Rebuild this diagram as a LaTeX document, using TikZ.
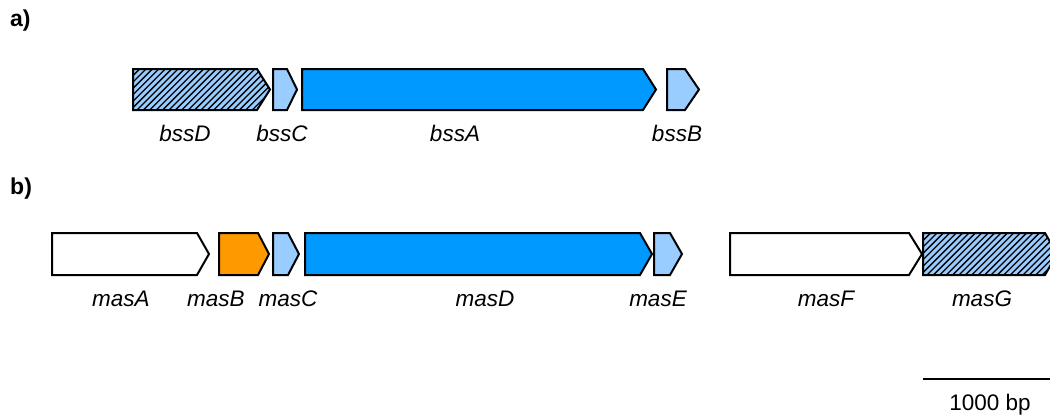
\documentclass[tikz,border=0pt]{standalone}
\usepackage{fontspec}
\setmainfont{Liberation Sans}
\definecolor{geneDark}{HTML}{0099FF}
\definecolor{geneLight}{HTML}{99CCFF}
\definecolor{geneOrange}{HTML}{FF9900}
\begin{document}
\begin{tikzpicture}[x=1pt,y=-1pt,
  gene/.style={draw=black,line width=2pt,line join=miter},
  genelabel/.style={font=\fontsize{22.5}{26}\selectfont\itshape,anchor=center,inner sep=0pt},
  panel/.style={font=\fontsize{23}{26}\selectfont\bfseries,anchor=north west,inner sep=0pt}]
\useasboundingbox (0,0) rectangle (1050,418);
\clip (0,0) rectangle (1050,418);

% gene arrow: style, left x, shoulder x, tip x, top y, bottom y
\newcommand{\genearrow}[6]{%
  \path[#1] (#2,#5) -- (#3,#5) -- (#4,{(#5+#6)/2}) -- (#3,#6) -- (#2,#6) -- cycle;}

% hatched gene arrow: light fill with diagonal black lines
\newcommand{\hatcharrow}[5]{%
  \begin{scope}
    \clip (#1,#4) -- (#2,#4) -- (#3,{(#4+#5)/2}) -- (#2,#5) -- (#1,#5) -- cycle;
    \fill[geneLight] (#1,#4) rectangle (#3,#5);
    \foreach \s in {-60,-53.6,...,200} {
      \draw[line width=1.3pt] ({#1+\s},#5) -- ({#1+\s+60},{#5-60});
    }
  \end{scope}
  \genearrow{gene}{#1}{#2}{#3}{#4}{#5}}

% panel a
\node[panel] (pa) at (10,10) {a)};
\hatcharrow{133}{257}{270}{69}{110}
\genearrow{gene,fill=geneLight}{273}{287}{297}{69}{110}
\genearrow{gene,fill=geneDark}{302}{643}{656}{69}{110}
\genearrow{gene,fill=geneLight}{667}{685}{699}{69}{110}
\node[genelabel] (bssD) at (185,133) {bssD};
\node[genelabel] (bssC) at (282,133) {bssC};
\node[genelabel] (bssA) at (455,133) {bssA};
\node[genelabel] (bssB) at (677,133) {bssB};

% panel b
\node[panel] (pb) at (10,178) {b)};
\genearrow{gene,fill=white}{52}{197}{209}{233}{275}
\genearrow{gene,fill=geneOrange}{219}{258}{269}{233}{275}
\genearrow{gene,fill=geneLight}{273}{288}{299}{233}{275}
\genearrow{gene,fill=geneDark}{305}{640}{652}{233}{275}
\genearrow{gene,fill=geneLight}{654}{670}{682}{233}{275}
\genearrow{gene,fill=white}{730}{909}{922}{233}{275}
\hatcharrow{923}{1045}{1057}{233}{275}
\node[genelabel] (masA) at (121,299) {masA};
\node[genelabel] (masB) at (216,299) {masB};
\node[genelabel] (masC) at (288,299) {masC};
\node[genelabel] (masD) at (485,299) {masD};
\node[genelabel] (masE) at (658,299) {masE};
\node[genelabel] (masF) at (826,299) {masF};
\node[genelabel] (masG) at (982,299) {masG};

% scale bar
\coordinate (sbL) at (923,379);
\coordinate (sbR) at (1050,379);
\draw[line width=1.6pt] (sbL) -- (sbR);
\node[font=\fontsize{22.5}{26}\selectfont,inner sep=0pt] (sbtext) at (990,405) {1000 bp};
\end{tikzpicture}
\end{document}
